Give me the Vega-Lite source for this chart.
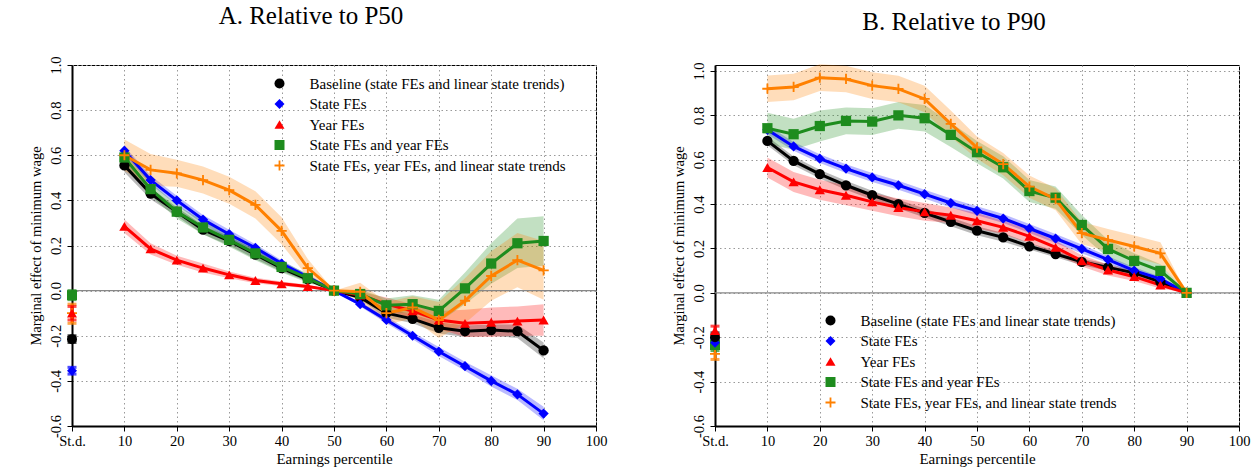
{
  "$schema": "https://vega.github.io/schema/vega-lite/v6.json",
  "padding": {"left": 27, "top": 3, "right": 5, "bottom": 5},
  "spacing": 62,
  "datasets": {
    "a": [
      {"p":10,"s":"base","y":0.555,"lo":0.525,"hi":0.585},{"p":15,"s":"base","y":0.43,"lo":0.405,"hi":0.455},{"p":20,"s":"base","y":0.35,"lo":0.33,"hi":0.37},{"p":25,"s":"base","y":0.27,"lo":0.25,"hi":0.29},{"p":30,"s":"base","y":0.22,"lo":0.2,"hi":0.24},{"p":35,"s":"base","y":0.16,"lo":0.14,"hi":0.18},{"p":40,"s":"base","y":0.1,"lo":0.085,"hi":0.115},{"p":45,"s":"base","y":0.05,"lo":0.04,"hi":0.06},{"p":50,"s":"base","y":0,"lo":0,"hi":0},{"p":55,"s":"base","y":-0.03,"lo":-0.04,"hi":-0.02},{"p":60,"s":"base","y":-0.1,"lo":-0.12,"hi":-0.08},{"p":65,"s":"base","y":-0.125,"lo":-0.145,"hi":-0.105},{"p":70,"s":"base","y":-0.165,"lo":-0.19,"hi":-0.14},{"p":75,"s":"base","y":-0.18,"lo":-0.205,"hi":-0.155},{"p":80,"s":"base","y":-0.175,"lo":-0.2,"hi":-0.15},{"p":85,"s":"base","y":-0.18,"lo":-0.21,"hi":-0.15},{"p":90,"s":"base","y":-0.265,"lo":-0.3,"hi":-0.23},
      {"p":10,"s":"state","y":0.62,"lo":0.6,"hi":0.64},{"p":15,"s":"state","y":0.49,"lo":0.47,"hi":0.51},{"p":20,"s":"state","y":0.4,"lo":0.38,"hi":0.42},{"p":25,"s":"state","y":0.315,"lo":0.295,"hi":0.335},{"p":30,"s":"state","y":0.25,"lo":0.23,"hi":0.27},{"p":35,"s":"state","y":0.19,"lo":0.175,"hi":0.205},{"p":40,"s":"state","y":0.12,"lo":0.105,"hi":0.135},{"p":45,"s":"state","y":0.06,"lo":0.05,"hi":0.07},{"p":50,"s":"state","y":0,"lo":0,"hi":0},{"p":55,"s":"state","y":-0.06,"lo":-0.07,"hi":-0.05},{"p":60,"s":"state","y":-0.13,"lo":-0.145,"hi":-0.115},{"p":65,"s":"state","y":-0.2,"lo":-0.215,"hi":-0.185},{"p":70,"s":"state","y":-0.27,"lo":-0.29,"hi":-0.25},{"p":75,"s":"state","y":-0.335,"lo":-0.355,"hi":-0.315},{"p":80,"s":"state","y":-0.4,"lo":-0.425,"hi":-0.375},{"p":85,"s":"state","y":-0.46,"lo":-0.485,"hi":-0.435},{"p":90,"s":"state","y":-0.545,"lo":-0.575,"hi":-0.515},
      {"p":10,"s":"year","y":0.285,"lo":0.255,"hi":0.315},{"p":15,"s":"year","y":0.185,"lo":0.16,"hi":0.21},{"p":20,"s":"year","y":0.135,"lo":0.115,"hi":0.155},{"p":25,"s":"year","y":0.1,"lo":0.08,"hi":0.12},{"p":30,"s":"year","y":0.07,"lo":0.055,"hi":0.085},{"p":35,"s":"year","y":0.045,"lo":0.033,"hi":0.057},{"p":40,"s":"year","y":0.03,"lo":0.02,"hi":0.04},{"p":45,"s":"year","y":0.018,"lo":0.01,"hi":0.026},{"p":50,"s":"year","y":0,"lo":0,"hi":0},{"p":55,"s":"year","y":-0.02,"lo":-0.035,"hi":-0.005},{"p":60,"s":"year","y":-0.06,"lo":-0.09,"hi":-0.03},{"p":65,"s":"year","y":-0.09,"lo":-0.12,"hi":-0.06},{"p":70,"s":"year","y":-0.13,"lo":-0.17,"hi":-0.09},{"p":75,"s":"year","y":-0.145,"lo":-0.205,"hi":-0.085},{"p":80,"s":"year","y":-0.14,"lo":-0.205,"hi":-0.075},{"p":85,"s":"year","y":-0.135,"lo":-0.2,"hi":-0.07},{"p":90,"s":"year","y":-0.13,"lo":-0.2,"hi":-0.06},
      {"p":10,"s":"sy","y":0.59,"lo":0.56,"hi":0.62},{"p":15,"s":"sy","y":0.45,"lo":0.42,"hi":0.48},{"p":20,"s":"sy","y":0.35,"lo":0.32,"hi":0.38},{"p":25,"s":"sy","y":0.28,"lo":0.25,"hi":0.31},{"p":30,"s":"sy","y":0.225,"lo":0.195,"hi":0.255},{"p":35,"s":"sy","y":0.165,"lo":0.135,"hi":0.195},{"p":40,"s":"sy","y":0.105,"lo":0.08,"hi":0.13},{"p":45,"s":"sy","y":0.055,"lo":0.035,"hi":0.075},{"p":50,"s":"sy","y":0,"lo":0,"hi":0},{"p":55,"s":"sy","y":-0.015,"lo":-0.035,"hi":0.005},{"p":60,"s":"sy","y":-0.065,"lo":-0.095,"hi":-0.035},{"p":65,"s":"sy","y":-0.06,"lo":-0.1,"hi":-0.02},{"p":70,"s":"sy","y":-0.09,"lo":-0.14,"hi":-0.04},{"p":75,"s":"sy","y":0.01,"lo":-0.06,"hi":0.08},{"p":80,"s":"sy","y":0.12,"lo":0.03,"hi":0.21},{"p":85,"s":"sy","y":0.21,"lo":0.1,"hi":0.32},{"p":90,"s":"sy","y":0.22,"lo":0.11,"hi":0.33},
      {"p":10,"s":"syt","y":0.6,"lo":0.53,"hi":0.67},{"p":15,"s":"syt","y":0.535,"lo":0.465,"hi":0.605},{"p":20,"s":"syt","y":0.52,"lo":0.46,"hi":0.58},{"p":25,"s":"syt","y":0.49,"lo":0.43,"hi":0.55},{"p":30,"s":"syt","y":0.445,"lo":0.385,"hi":0.505},{"p":35,"s":"syt","y":0.38,"lo":0.32,"hi":0.44},{"p":40,"s":"syt","y":0.265,"lo":0.205,"hi":0.325},{"p":45,"s":"syt","y":0.1,"lo":0.06,"hi":0.14},{"p":50,"s":"syt","y":0,"lo":0,"hi":0},{"p":55,"s":"syt","y":-0.005,"lo":-0.045,"hi":0.035},{"p":60,"s":"syt","y":-0.1,"lo":-0.15,"hi":-0.05},{"p":65,"s":"syt","y":-0.075,"lo":-0.125,"hi":-0.025},{"p":70,"s":"syt","y":-0.13,"lo":-0.21,"hi":-0.05},{"p":75,"s":"syt","y":-0.045,"lo":-0.145,"hi":0.055},{"p":80,"s":"syt","y":0.065,"lo":-0.045,"hi":0.175},{"p":85,"s":"syt","y":0.135,"lo":0.015,"hi":0.255},{"p":90,"s":"syt","y":0.09,"lo":-0.04,"hi":0.22}
    ],
    "as": [
      {"p":0,"s":"state","y":-0.355,"lo":-0.37,"hi":-0.34},
      {"p":0,"s":"base","y":-0.215,"lo":-0.23,"hi":-0.2},
      {"p":0,"s":"syt","y":-0.1,"lo":-0.145,"hi":-0.06},
      {"p":0,"s":"year","y":-0.1,"lo":-0.13,"hi":-0.07},
      {"p":0,"s":"sy","y":-0.02,"lo":-0.04,"hi":0.0}
    ],
    "b": [
      {"p":10,"s":"base","y":0.685,"lo":0.665,"hi":0.705},{"p":15,"s":"base","y":0.595,"lo":0.575,"hi":0.615},{"p":20,"s":"base","y":0.535,"lo":0.515,"hi":0.555},{"p":25,"s":"base","y":0.485,"lo":0.465,"hi":0.505},{"p":30,"s":"base","y":0.44,"lo":0.42,"hi":0.46},{"p":35,"s":"base","y":0.4,"lo":0.38,"hi":0.42},{"p":40,"s":"base","y":0.36,"lo":0.34,"hi":0.38},{"p":45,"s":"base","y":0.32,"lo":0.3,"hi":0.34},{"p":50,"s":"base","y":0.28,"lo":0.26,"hi":0.3},{"p":55,"s":"base","y":0.25,"lo":0.23,"hi":0.27},{"p":60,"s":"base","y":0.21,"lo":0.195,"hi":0.225},{"p":65,"s":"base","y":0.175,"lo":0.16,"hi":0.19},{"p":70,"s":"base","y":0.14,"lo":0.125,"hi":0.155},{"p":75,"s":"base","y":0.115,"lo":0.1,"hi":0.13},{"p":80,"s":"base","y":0.09,"lo":0.078,"hi":0.102},{"p":85,"s":"base","y":0.05,"lo":0.04,"hi":0.06},{"p":90,"s":"base","y":0,"lo":0,"hi":0},
      {"p":10,"s":"state","y":0.735,"lo":0.715,"hi":0.755},{"p":15,"s":"state","y":0.66,"lo":0.64,"hi":0.68},{"p":20,"s":"state","y":0.605,"lo":0.585,"hi":0.625},{"p":25,"s":"state","y":0.56,"lo":0.54,"hi":0.58},{"p":30,"s":"state","y":0.52,"lo":0.5,"hi":0.54},{"p":35,"s":"state","y":0.485,"lo":0.465,"hi":0.505},{"p":40,"s":"state","y":0.445,"lo":0.425,"hi":0.465},{"p":45,"s":"state","y":0.405,"lo":0.385,"hi":0.425},{"p":50,"s":"state","y":0.37,"lo":0.35,"hi":0.39},{"p":55,"s":"state","y":0.335,"lo":0.315,"hi":0.355},{"p":60,"s":"state","y":0.29,"lo":0.27,"hi":0.31},{"p":65,"s":"state","y":0.245,"lo":0.225,"hi":0.265},{"p":70,"s":"state","y":0.198,"lo":0.178,"hi":0.218},{"p":75,"s":"state","y":0.15,"lo":0.135,"hi":0.165},{"p":80,"s":"state","y":0.1,"lo":0.085,"hi":0.115},{"p":85,"s":"state","y":0.063,"lo":0.053,"hi":0.073},{"p":90,"s":"state","y":0,"lo":0,"hi":0},
      {"p":10,"s":"year","y":0.565,"lo":0.52,"hi":0.61},{"p":15,"s":"year","y":0.5,"lo":0.455,"hi":0.545},{"p":20,"s":"year","y":0.465,"lo":0.42,"hi":0.51},{"p":25,"s":"year","y":0.44,"lo":0.395,"hi":0.485},{"p":30,"s":"year","y":0.41,"lo":0.37,"hi":0.45},{"p":35,"s":"year","y":0.385,"lo":0.345,"hi":0.425},{"p":40,"s":"year","y":0.365,"lo":0.325,"hi":0.405},{"p":45,"s":"year","y":0.35,"lo":0.315,"hi":0.385},{"p":50,"s":"year","y":0.325,"lo":0.29,"hi":0.36},{"p":55,"s":"year","y":0.295,"lo":0.265,"hi":0.325},{"p":60,"s":"year","y":0.255,"lo":0.225,"hi":0.285},{"p":65,"s":"year","y":0.205,"lo":0.175,"hi":0.235},{"p":70,"s":"year","y":0.144,"lo":0.119,"hi":0.169},{"p":75,"s":"year","y":0.103,"lo":0.078,"hi":0.128},{"p":80,"s":"year","y":0.073,"lo":0.053,"hi":0.093},{"p":85,"s":"year","y":0.035,"lo":0.02,"hi":0.05},{"p":90,"s":"year","y":0,"lo":0,"hi":0},
      {"p":10,"s":"sy","y":0.742,"lo":0.672,"hi":0.812},{"p":15,"s":"sy","y":0.715,"lo":0.645,"hi":0.785},{"p":20,"s":"sy","y":0.752,"lo":0.682,"hi":0.822},{"p":25,"s":"sy","y":0.775,"lo":0.715,"hi":0.835},{"p":30,"s":"sy","y":0.772,"lo":0.712,"hi":0.832},{"p":35,"s":"sy","y":0.8,"lo":0.74,"hi":0.86},{"p":40,"s":"sy","y":0.787,"lo":0.727,"hi":0.847},{"p":45,"s":"sy","y":0.712,"lo":0.657,"hi":0.767},{"p":50,"s":"sy","y":0.634,"lo":0.584,"hi":0.684},{"p":55,"s":"sy","y":0.566,"lo":0.516,"hi":0.616},{"p":60,"s":"sy","y":0.459,"lo":0.409,"hi":0.509},{"p":65,"s":"sy","y":0.429,"lo":0.379,"hi":0.479},{"p":70,"s":"sy","y":0.306,"lo":0.261,"hi":0.351},{"p":75,"s":"sy","y":0.198,"lo":0.158,"hi":0.238},{"p":80,"s":"sy","y":0.144,"lo":0.109,"hi":0.179},{"p":85,"s":"sy","y":0.099,"lo":0.069,"hi":0.129},{"p":90,"s":"sy","y":0,"lo":0,"hi":0},
      {"p":10,"s":"syt","y":0.92,"lo":0.86,"hi":0.98},{"p":15,"s":"syt","y":0.928,"lo":0.868,"hi":0.988},{"p":20,"s":"syt","y":0.97,"lo":0.91,"hi":1.03},{"p":25,"s":"syt","y":0.964,"lo":0.904,"hi":1.024},{"p":30,"s":"syt","y":0.934,"lo":0.874,"hi":0.994},{"p":35,"s":"syt","y":0.919,"lo":0.859,"hi":0.979},{"p":40,"s":"syt","y":0.874,"lo":0.814,"hi":0.934},{"p":45,"s":"syt","y":0.762,"lo":0.702,"hi":0.822},{"p":50,"s":"syt","y":0.655,"lo":0.605,"hi":0.705},{"p":55,"s":"syt","y":0.58,"lo":0.53,"hi":0.63},{"p":60,"s":"syt","y":0.479,"lo":0.429,"hi":0.529},{"p":65,"s":"syt","y":0.422,"lo":0.372,"hi":0.472},{"p":70,"s":"syt","y":0.269,"lo":0.219,"hi":0.319},{"p":75,"s":"syt","y":0.238,"lo":0.188,"hi":0.288},{"p":80,"s":"syt","y":0.209,"lo":0.159,"hi":0.259},{"p":85,"s":"syt","y":0.178,"lo":0.128,"hi":0.228},{"p":90,"s":"syt","y":0,"lo":0,"hi":0}
    ],
    "bs": [
      {"p":0,"s":"syt","y":-0.275,"lo":-0.3,"hi":-0.25},
      {"p":0,"s":"sy","y":-0.235,"lo":-0.26,"hi":-0.21},
      {"p":0,"s":"state","y":-0.225,"lo":-0.24,"hi":-0.21},
      {"p":0,"s":"base","y":-0.2,"lo":-0.22,"hi":-0.18},
      {"p":0,"s":"year","y":-0.17,"lo":-0.19,"hi":-0.15}
    ]
  },
  "hconcat": [
    {
      "width": 524, "height": 361,
      "title": {"text": "A. Relative to P50", "dx": -23},
      "layer": [
        {"data": {"name": "a"}, "mark": {"type": "area", "fillOpacity": 0.27},
         "encoding": {
           "x": {"field": "p", "type": "quantitative", "scale": {"domain": [0, 100], "nice": false}, "axis": {"values": [0,10,20,30,40,50,60,70,80,90,100], "labelExpr": "datum.value==0?'St.d.':datum.label", "title": "Earnings percentile", "grid": true}},
           "y": {"field": "lo", "type": "quantitative", "scale": {"domain": [-0.6, 1.0], "nice": false, "zero": false}, "axis": {"values": [-0.6,-0.4,-0.2,0,0.2,0.4,0.6,0.8,1.0], "labelExpr": "datum.value<0?'-'+format(-datum.value,'.1f'):format(datum.value,'.1f')", "title": "Marginal effect of minimum wage", "grid": true, "labelAngle": -90, "labelAlign": "center", "labelBaseline": "bottom"}},
           "y2": {"field": "hi"},
           "color": {"field": "s", "type": "nominal", "scale": {"domain": ["base","state","year","sy","syt"], "range": ["#000000","#0000ff","#ff0000","#1e8c1e","#ff8000"]}, "legend": {"orient": "none", "legendX": 200, "legendY": 11, "title": null, "symbolSize": 100, "symbolOpacity": 1, "symbolStrokeWidth": 0, "labelOffset": 22.5, "rowPadding": 4.5, "labelFont": "Liberation Serif", "labelFontSize": 15, "labelColor": "#000", "labelLimit": 500, "labelExpr": "datum.value=='base'?'Baseline (state FEs and linear state trends)':datum.value=='state'?'State FEs':datum.value=='year'?'Year FEs':datum.value=='sy'?'State FEs and year FEs':'State FEs, year FEs, and linear state trends'", "encode": {"symbols": {"update": {"shape": {"signal": "datum.value=='base'?'M-3.7,-0.38H3.7V0.38H-3.7Z M-1.05,0A1.05,1.05 0 1,1 1.05,0A1.05,1.05 0 1,1 -1.05,0Z':datum.value=='state'?'M-3.7,-0.38H3.7V0.38H-3.7Z M0,-1.25L1.2,0L0,1.25L-1.2,0Z':datum.value=='year'?'M-3.7,-0.38H3.7V0.38H-3.7Z M0,-1.15L1.2,0.9L-1.2,0.9Z':datum.value=='sy'?'M-3.7,-0.38H3.7V0.38H-3.7Z M-1,-1H1V1H-1Z':'M-3.7,-0.38H3.7V0.38H-3.7Z M-1.25,-0.2H1.25V0.2H-1.25Z M-0.2,-1.25H0.2V1.25H-0.2Z'"}, "strokeWidth": {"value": 0}, "opacity": {"value": 1}, "fillOpacity": {"value": 1}}}}}}
         }},
        {"data": {"values": [{}]}, "mark": {"type": "rule", "color": "#888888", "strokeWidth": 1.3}, "encoding": {"y": {"datum": 0}}},
        {"data": {"name": "a"}, "mark": {"type": "line", "strokeWidth": 3},
         "encoding": {"x": {"field": "p", "type": "quantitative"}, "y": {"field": "y", "type": "quantitative"}, "color": {"field": "s", "type": "nominal"}}},
        {"data": {"name": "as"}, "mark": {"type": "rule", "strokeWidth": 3},
         "encoding": {"x": {"field": "p", "type": "quantitative"}, "y": {"field": "lo", "type": "quantitative"}, "y2": {"field": "hi"}, "color": {"field": "s", "type": "nominal"}}},
        {"data": {"name": "as"}, "mark": {"type": "tick", "orient": "horizontal", "thickness": 3, "size": 9},
         "encoding": {"x": {"field": "p", "type": "quantitative"}, "y": {"field": "lo", "type": "quantitative"}, "color": {"field": "s", "type": "nominal"}}},
        {"data": {"name": "as"}, "mark": {"type": "tick", "orient": "horizontal", "thickness": 3, "size": 9},
         "encoding": {"x": {"field": "p", "type": "quantitative"}, "y": {"field": "hi", "type": "quantitative"}, "color": {"field": "s", "type": "nominal"}}},
        {"data": {"name": "as"}, "mark": {"type": "point", "filled": true, "size": 100, "opacity": 1},
         "encoding": {"x": {"field": "p", "type": "quantitative"}, "y": {"field": "y", "type": "quantitative"}, "color": {"field": "s", "type": "nominal"}, "shape": {"field": "s", "type": "nominal", "scale": {"domain": ["base","state","year","sy","syt"], "range": ["circle","diamond","triangle-up","square","M-1,-0.18H1V0.18H-1Z M-0.18,-1H0.18V1H-0.18Z"]}, "legend": null}}},
        {"data": {"name": "a"}, "mark": {"type": "point", "filled": true, "size": 105, "opacity": 1},
         "encoding": {
           "x": {"field": "p", "type": "quantitative"}, "y": {"field": "y", "type": "quantitative"},
           "color": {"field": "s", "type": "nominal"},
           "shape": {"field": "s", "type": "nominal", "legend": null}
         }}
      ]
    },
    {
      "width": 524, "height": 361,
      "title": {"text": "B. Relative to P90", "dx": -23},
      "layer": [
        {"data": {"name": "b"}, "mark": {"type": "area", "fillOpacity": 0.27},
         "encoding": {
           "x": {"field": "p", "type": "quantitative", "scale": {"domain": [0, 100], "nice": false}, "axis": {"values": [0,10,20,30,40,50,60,70,80,90,100], "labelExpr": "datum.value==0?'St.d.':datum.label", "title": "Earnings percentile", "grid": true}},
           "y": {"field": "lo", "type": "quantitative", "scale": {"domain": [-0.6, 1.027], "nice": false, "zero": false}, "axis": {"values": [-0.6,-0.4,-0.2,0,0.2,0.4,0.6,0.8,1.0], "labelExpr": "datum.value<0?'-'+format(-datum.value,'.1f'):format(datum.value,'.1f')", "title": "Marginal effect of minimum wage", "grid": true, "labelAngle": -90, "labelAlign": "center", "labelBaseline": "bottom"}},
           "y2": {"field": "hi"},
           "color": {"field": "s", "type": "nominal", "scale": {"domain": ["base","state","year","sy","syt"], "range": ["#000000","#0000ff","#ff0000","#1e8c1e","#ff8000"]}, "legend": {"orient": "none", "legendX": 108, "legendY": 248, "title": null, "symbolSize": 100, "symbolOpacity": 1, "symbolStrokeWidth": 0, "labelOffset": 22.5, "rowPadding": 4.5, "labelFont": "Liberation Serif", "labelFontSize": 15, "labelColor": "#000", "labelLimit": 500, "labelExpr": "datum.value=='base'?'Baseline (state FEs and linear state trends)':datum.value=='state'?'State FEs':datum.value=='year'?'Year FEs':datum.value=='sy'?'State FEs and year FEs':'State FEs, year FEs, and linear state trends'", "encode": {"symbols": {"update": {"shape": {"signal": "datum.value=='base'?'M-3.7,-0.38H3.7V0.38H-3.7Z M-1.05,0A1.05,1.05 0 1,1 1.05,0A1.05,1.05 0 1,1 -1.05,0Z':datum.value=='state'?'M-3.7,-0.38H3.7V0.38H-3.7Z M0,-1.25L1.2,0L0,1.25L-1.2,0Z':datum.value=='year'?'M-3.7,-0.38H3.7V0.38H-3.7Z M0,-1.15L1.2,0.9L-1.2,0.9Z':datum.value=='sy'?'M-3.7,-0.38H3.7V0.38H-3.7Z M-1,-1H1V1H-1Z':'M-3.7,-0.38H3.7V0.38H-3.7Z M-1.25,-0.2H1.25V0.2H-1.25Z M-0.2,-1.25H0.2V1.25H-0.2Z'"}, "strokeWidth": {"value": 0}, "opacity": {"value": 1}, "fillOpacity": {"value": 1}}}}}}
         }},
        {"data": {"values": [{}]}, "mark": {"type": "rule", "color": "#888888", "strokeWidth": 1.3}, "encoding": {"y": {"datum": 0}}},
        {"data": {"name": "b"}, "mark": {"type": "line", "strokeWidth": 3},
         "encoding": {"x": {"field": "p", "type": "quantitative"}, "y": {"field": "y", "type": "quantitative"}, "color": {"field": "s", "type": "nominal"}}},
        {"data": {"name": "bs"}, "mark": {"type": "rule", "strokeWidth": 3},
         "encoding": {"x": {"field": "p", "type": "quantitative"}, "y": {"field": "lo", "type": "quantitative"}, "y2": {"field": "hi"}, "color": {"field": "s", "type": "nominal"}}},
        {"data": {"name": "bs"}, "mark": {"type": "tick", "orient": "horizontal", "thickness": 3, "size": 9},
         "encoding": {"x": {"field": "p", "type": "quantitative"}, "y": {"field": "lo", "type": "quantitative"}, "color": {"field": "s", "type": "nominal"}}},
        {"data": {"name": "bs"}, "mark": {"type": "tick", "orient": "horizontal", "thickness": 3, "size": 9},
         "encoding": {"x": {"field": "p", "type": "quantitative"}, "y": {"field": "hi", "type": "quantitative"}, "color": {"field": "s", "type": "nominal"}}},
        {"data": {"name": "bs"}, "mark": {"type": "point", "filled": true, "size": 100, "opacity": 1},
         "encoding": {"x": {"field": "p", "type": "quantitative"}, "y": {"field": "y", "type": "quantitative"}, "color": {"field": "s", "type": "nominal"}, "shape": {"field": "s", "type": "nominal", "scale": {"domain": ["base","state","year","sy","syt"], "range": ["circle","diamond","triangle-up","square","M-1,-0.18H1V0.18H-1Z M-0.18,-1H0.18V1H-0.18Z"]}, "legend": null}}},
        {"data": {"name": "b"}, "mark": {"type": "point", "filled": true, "size": 105, "opacity": 1},
         "encoding": {
           "x": {"field": "p", "type": "quantitative"}, "y": {"field": "y", "type": "quantitative"},
           "color": {"field": "s", "type": "nominal"},
           "shape": {"field": "s", "type": "nominal", "legend": null}
         }}
      ]
    }
  ],
  "resolve": {"scale": {"color": "independent", "shape": "independent"}, "legend": {"color": "independent", "shape": "independent"}},
  "config": {
    "font": "Liberation Serif",
    "view": {"stroke": "#000000", "strokeWidth": 1},
    "title": {"font": "Liberation Serif", "fontSize": 25, "fontWeight": "normal", "color": "#000000", "offset": 27},
    "axis": {"labelFont": "Liberation Serif", "labelFontSize": 14.5, "labelColor": "#000000", "titleFont": "Liberation Serif", "titleFontSize": 14.5, "titleFontWeight": "normal", "titleColor": "#000000", "domainColor": "#000000", "domainWidth": 2, "tickColor": "#000000", "tickSize": 5, "gridColor": "#999999", "gridDash": [1.5, 3], "gridWidth": 1, "labelFlush": false, "labelOverlap": false},
    "axisY": {"labelPadding": 4, "titlePadding": 5},
    "axisX": {"labelPadding": 3, "titlePadding": 4, "titleFontSize": 15}
  }
}
